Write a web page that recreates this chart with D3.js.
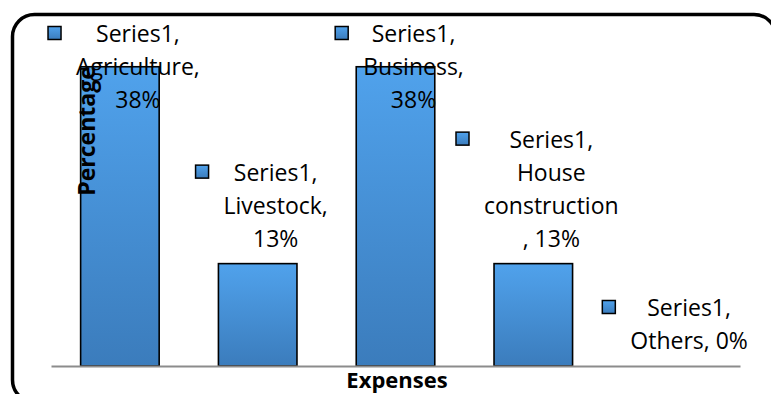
<!DOCTYPE html>
<html>
<head>
<meta charset="utf-8">
<script src="https://cdn.jsdelivr.net/npm/d3@7/dist/d3.min.js"></script>
<style>
  html, body { margin: 0; padding: 0; background: #fff; overflow: hidden; }
  svg { display: block; }
  text { font-family: "Open Sans", sans-serif; fill: #000; }
</style>
</head>
<body>
<svg id="chart" width="771" height="394"></svg>
<script>
// Expense categories and their shares (%)
const categories = ["Agriculture", "Livestock", "Business", "House construction", "Others"];
const values = [38, 13, 38, 13, 0];
const seriesName = "Series1";
// Data-label lines as wrapped in the chart
const labelLines = [
  ["Series1,", "Agriculture,", "38%"],
  ["Series1,", "Livestock,", "13%"],
  ["Series1,", "Business,", "38%"],
  ["Series1,", "House", "construction", ", 13%"],
  ["Series1,", "Others, 0%"]
];
const xTitle = "Expenses";
const yTitle = "Percentage";

const W = 771, H = 394;
const plot = { left: 51, right: 740, top: 51, bottom: 366 };

const svg = d3.select("#chart");

// gradients
const defs = svg.append("defs");
const grad = defs.append("linearGradient")
  .attr("id", "barGrad").attr("x1", 0).attr("y1", 0).attr("x2", 0).attr("y2", 1);
grad.append("stop").attr("offset", "0%").attr("stop-color", "#50a2ec");
grad.append("stop").attr("offset", "100%").attr("stop-color", "#3b7cbc");

// chart frame (rounded, right and bottom edges fall outside the canvas)
const fx0 = 12.5, fy0 = 14.5, fx1 = 776, fy1 = 402, r = 22;
svg.append("path")
  .attr("d", `M${fx0},${fy0 + r} A${r},${r} 0 0 1 ${fx0 + r},${fy0} L${fx1 - r},${fy0} A${r},${r} 0 0 1 ${fx1},${fy0 + r}` +
             ` M${fx0},${fy0 + r} L${fx0},${fy1 - r} A${r},${r} 0 0 0 ${fx0 + r},${fy1}`)
  .attr("fill", "none").attr("stroke", "#000").attr("stroke-width", 3.5);

const x = d3.scaleBand()
  .domain(categories)
  .range([plot.left, plot.right])
  .paddingInner(0.43).paddingOuter(0.215);

const y = d3.scaleLinear().domain([0, 40]).range([plot.bottom, plot.top]);

// bars
svg.append("g").selectAll("rect")
  .data(values.map((v, i) => ({ cat: categories[i], v })))
  .join("rect")
  .filter(d => d.v > 0)
  .attr("x", d => x(d.cat))
  .attr("y", d => y(d.v))
  .attr("width", x.bandwidth())
  .attr("height", d => y(0) - y(d.v))
  .attr("fill", "url(#barGrad)")
  .attr("stroke", "#000").attr("stroke-width", 1.6);

// category axis line (no ticks, no labels)
const xAxis = d3.axisBottom(x).tickSize(0).tickFormat("");
const gx = svg.append("g").attr("transform", `translate(0,${plot.bottom})`).call(xAxis);
gx.select(".domain").attr("stroke", "#8c8c8c").attr("stroke-width", 2);

// axis titles
svg.append("text")
  .attr("x", 397).attr("y", 388)
  .attr("text-anchor", "middle")
  .attr("font-weight", "bold").attr("font-size", 22)
  .text(xTitle);

svg.append("text")
  .attr("transform", "translate(95,131) rotate(-90)")
  .attr("text-anchor", "middle")
  .attr("font-weight", "bold").attr("font-size", 23)
  .text(yTitle);

// data labels with legend keys
const fs = 23, lh = 33, keySize = 13, keyGap = 15;
const topLimit = 33;
labelLines.forEach((lines, i) => {
  const cx = x(categories[i]) + x.bandwidth() / 2;
  const barTop = y(values[i]);
  const firstY = Math.max(topLimit, barTop - 26 - (lines.length - 1) * lh);
  const g = svg.append("g");
  const texts = g.selectAll("text").data(lines).join("text")
    .attr("font-size", fs)
    .attr("text-anchor", "middle")
    .attr("dominant-baseline", "central")
    .attr("y", (d, k) => firstY + k * lh)
    .text(d => d);
  let maxW = 0;
  texts.each(function () { maxW = Math.max(maxW, this.getComputedTextLength()); });
  const blockW = keySize + keyGap + maxW;
  const blockLeft = cx + 4 - blockW / 2;
  const textCx = blockLeft + keySize + keyGap + maxW / 2;
  texts.attr("x", textCx);
  g.append("rect")
    .attr("x", blockLeft).attr("y", firstY - keySize / 2)
    .attr("width", keySize).attr("height", keySize)
    .attr("fill", "url(#barGrad)")
    .attr("stroke", "#000").attr("stroke-width", 1.5);
});
</script>
</body>
</html>
